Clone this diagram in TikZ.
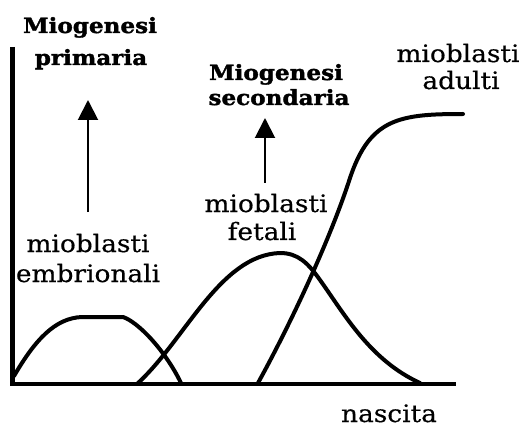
\documentclass[tikz,border=0pt]{standalone}
\usepackage{fontspec}
\setmainfont[FakeStretch=1.1,FakeBold=0.4]{DejaVu Serif}
\newfontfamily\boldserif[FakeStretch=1.1,FakeBold=1.6]{DejaVu Serif}
\usetikzlibrary{arrows.meta}
\begin{document}
\begin{tikzpicture}[x=1pt,y=-1pt,
  axis/.style={line width=4.5pt},
  curve/.style={line width=4pt, line join=round, line cap=round},
  boldlab/.style={font=\boldserif\bfseries\fontsize{21}{24}\selectfont, inner sep=0pt, anchor=base},
  lab/.style={font=\fontsize{24}{28}\selectfont, inner sep=0pt, anchor=base},
  uparrow/.style={line width=2pt, -{Triangle[width=20pt,length=20pt]}}]
\useasboundingbox (0,0) rectangle (523,428);
% axes
\coordinate (top) at (12.5,47);
\coordinate (origin) at (12.5,384);
\coordinate (xend) at (456,384);
\draw[axis] (top) -- (origin) -- (xend);
% curves
\draw[curve] (14,376) .. controls (35,340) and (55,318) .. (82,317) -- (123,317)
  .. controls (138,322) and (165,350) .. (181,383);
\draw[curve] (138,383) .. controls (185,340) and (220,255) .. (280,253)
  .. controls (298,253) and (308,263) .. (320,280)
  .. controls (345,315) and (370,360) .. (420,383);
\draw[curve] (258,383) .. controls (290,325) and (330,240) .. (350,178)
  .. controls (370,118) and (400,114) .. (463,114);
% labels
\node[boldlab] (mp1) at (90,33) {Miogenesi};
\node[boldlab] (mp2) at (91,65) {primaria};
\node[boldlab] (ms1) at (276,80) {Miogenesi};
\node[boldlab] (ms2) at (279,105) {secondaria};
\node[lab] (ma1) at (458,62) {mioblasti};
\node[lab] (ma2) at (461,89) {adulti};
\node[lab] (mf1) at (266,212) {mioblasti};
\node[lab] (mf2) at (262,240) {fetali};
\node[lab] (me1) at (88,252) {mioblasti};
\node[lab] (me2) at (88,282) {embrionali};
\node[lab] (nas) at (389,422) {nascita};
% arrows
\coordinate (a1s) at (88,212);
\coordinate (a1e) at (88,100);
\coordinate (a2s) at (265,183);
\coordinate (a2e) at (265,118);
\draw[uparrow] (a1s) -- (a1e);
\draw[uparrow] (a2s) -- (a2e);
\end{tikzpicture}
\end{document}
